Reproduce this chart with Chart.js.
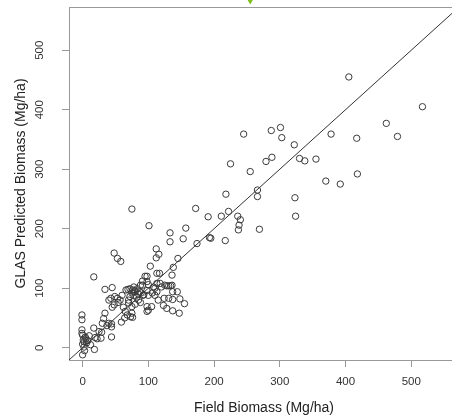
<!DOCTYPE html>
<html>
<head>
<meta charset="utf-8">
<script src="https://cdn.jsdelivr.net/npm/chart.js@4.4.0/dist/chart.umd.min.js"></script>
<style>
  html, body { margin: 0; padding: 0; background: #fff; overflow: hidden; }
</style>
</head>
<body>
<canvas id="biomassChart" width="464" height="418"></canvas>
<script>
// Field biomass vs GLAS predicted biomass, Mg/ha
const fieldBiomass = [
  405, 517, 287, 301, 303, 378, 417, 462, 479, 245,
  322, 255, 279, 288, 330, 338, 355, 370, 392, 418,
  266, 266, 323, 324, 269, 225, 218, 75, 172, 222,
  211, 191, 236, 240, 238, 237, 101, 133, 157, 133,
  153, 193, 195, 217, 174, 112,
  48, 53, 58, 17, 116, 112, 145, 103, 138, 113,
  117, 95, 98, 136, 91, 98, 113,
  100, 108, 118, 120, 125, 128, 131, 134, 136, 98,
  93, 100, 110, 113, 110, 124, 131, 137, 148, 155,
  123, 128, 137, 147, 144, 137,
  66, 72, 78, 69, 76, 79, 88, 91, 85, 89,
  92, 87, 80, 83, 75, 72, 78, 82, 70, 70,
  98, 105, 100, 98, 75, 80, 85, 76, 73, 75,
  65, 59, 64, 68,
  34, 45, 43, 49, 53, 54, 45, 48, 34, 32,
  40, 44, 44, 30, 37, 44, 25, 17, 19, 28,
  22, 18, 29,
  -1, -1, -1, -1, 0, 4, 1, 5, 2, 6,
  0, 2, 0, 3, 8, 10, 12,
  40, 57, 60, 88, 115, 106, 62
];
const glasBiomass = [
  455, 405, 365, 370, 353, 359, 352, 377, 355, 359,
  341, 296, 313, 320, 318, 314, 317, 280, 275, 292,
  265, 254, 252, 221, 199, 309, 258, 233, 234, 229,
  221, 220, 221, 215, 206, 198, 205, 193, 201, 178,
  183, 185, 184, 180, 175, 166,
  159, 150, 145, 119, 157, 151, 150, 137, 135, 125,
  125, 120, 120, 122, 112, 111, 108,
  106, 102, 108, 102, 105, 104, 104, 104, 105, 96,
  89, 88, 100, 94, 88, 83, 83, 81, 82, 74,
  71, 66, 62, 58, 94, 94,
  97, 99, 102, 98, 97, 94, 105, 105, 90, 92,
  88, 94, 96, 99, 92, 86, 88, 85, 80, 75,
  69, 69, 63, 61, 69, 73, 80, 51, 52, 58,
  61, 43, 50, 55,
  98, 101, 83, 86, 83, 76, 68, 72, 58, 49,
  41, 40, 35, 41, 37, 18, 27, 33, 17, 16,
  15, -3, 26,
  55, 47, 30, 24, 21, 18, 13, 15, 10, 8,
  6, 1, -12, -5, 12, 20, 5,
  80, 80, 88, 76, 80, 92, 68
];

const xTicks = [0, 100, 200, 300, 400, 500];
const yTicks = [0, 100, 200, 300, 400, 500];
const axisMin = -20.7;
const axisMax = 572.6;
const oneToOne = [-30, 600];
const topMarker = { x: 255, y: 585 };

const fontFamily = '"Liberation Sans", Arial, sans-serif';

// box round the plot, rotated y labels, little green marker at the top
const framePlugin = {
  id: 'frame',
  beforeDatasetsDraw(chart) {
    const { ctx, chartArea: a } = chart;
    ctx.save();
    ctx.strokeStyle = '#999';
    ctx.lineWidth = 1;
    ctx.strokeRect(a.left + 0.5, a.top + 0.5, a.right - a.left, a.bottom - a.top);
    ctx.restore();
  },
  afterDraw(chart) {
    const { ctx } = chart;
    const xScale = chart.scales.x;
    const yScale = chart.scales.y;
    ctx.save();
    ctx.fillStyle = '#333';
    ctx.font = '11.5px ' + fontFamily;
    ctx.textAlign = 'center';
    ctx.textBaseline = 'middle';
    yTicks.forEach(v => {
      const py = yScale.getPixelForValue(v);
      ctx.save();
      ctx.translate(40, py);
      ctx.rotate(-Math.PI / 2);
      ctx.fillText(String(v), 0, 0);
      ctx.restore();
    });

    const mx = xScale.getPixelForValue(topMarker.x);
    const my = yScale.getPixelForValue(topMarker.y);
    ctx.fillStyle = '#7fbf1a';
    ctx.beginPath();
    ctx.moveTo(mx - 4.5, my - 3);
    ctx.lineTo(mx + 4.5, my - 3);
    ctx.lineTo(mx, my + 5);
    ctx.closePath();
    ctx.fill();
    ctx.restore();
  }
};

const ctx = document.getElementById('biomassChart').getContext('2d');

new Chart(ctx, {
  type: 'scatter',
  data: {
    datasets: [
      {
        label: 'plots',
        data: fieldBiomass.map((x, i) => ({ x: x, y: glasBiomass[i] })),
        pointRadius: 3.2,
        pointBorderWidth: 1,
        borderColor: '#3a3a3a',
        backgroundColor: 'rgba(0,0,0,0)'
      },
      {
        label: '1:1',
        data: oneToOne.map(v => ({ x: v, y: v })),
        showLine: true,
        pointRadius: 0,
        borderColor: '#333',
        borderWidth: 1
      }
    ]
  },
  options: {
    responsive: false,
    animation: false,
    events: [],
    layout: { padding: { top: 7, left: 0, right: 0, bottom: 0 } },
    plugins: {
      legend: { display: false },
      tooltip: { enabled: false }
    },
    scales: {
      x: {
        type: 'linear',
        min: axisMin,
        max: axisMax,
        afterBuildTicks: s => { s.ticks = xTicks.map(v => ({ value: v })); },
        afterFit: s => { s.height = 58; },
        grid: { display: true, drawOnChartArea: false, drawTicks: true, tickLength: 7, color: '#999' },
        border: { display: false },
        ticks: { color: '#333', font: { family: fontFamily, size: 11.5 }, padding: 8, maxRotation: 0 },
        title: {
          display: true,
          text: 'Field Biomass (Mg/ha)',
          color: '#222',
          font: { family: fontFamily, size: 14 },
          padding: { top: 0, bottom: 1 }
        }
      },
      y: {
        type: 'linear',
        min: axisMin,
        max: axisMax,
        afterBuildTicks: s => { s.ticks = yTicks.map(v => ({ value: v })); },
        afterFit: s => { s.width = 69; },
        grid: { display: true, drawOnChartArea: false, drawTicks: true, tickLength: 7, color: '#999' },
        border: { display: false },
        ticks: { display: false },
        title: {
          display: true,
          text: 'GLAS Predicted Biomass (Mg/ha)',
          color: '#222',
          font: { family: fontFamily, size: 14 },
          padding: { top: 13, bottom: 0 }
        }
      }
    }
  },
  plugins: [framePlugin]
});
</script>
</body>
</html>
